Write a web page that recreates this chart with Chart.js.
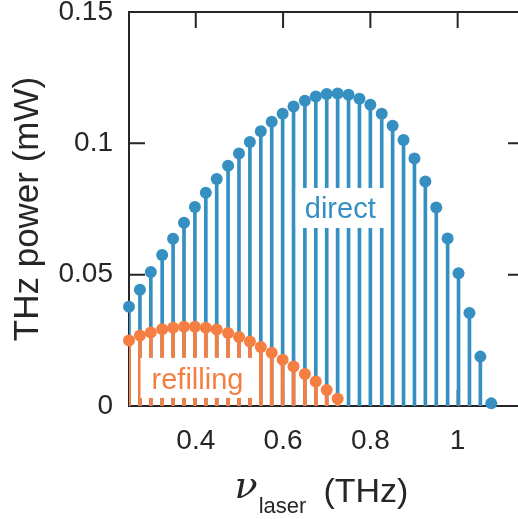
<!DOCTYPE html>
<html>
<head>
<meta charset="utf-8">
<script src="https://cdn.jsdelivr.net/npm/chart.js@4.4.1/dist/chart.umd.min.js"></script>
<style>
  html, body { margin: 0; padding: 0; background: #fff; overflow: hidden; }
  #wrap { position: relative; width: 540px; height: 519px; }
</style>
</head>
<body>
<div id="wrap"><canvas id="thzChart" width="540" height="519"></canvas></div>
<script>
// laser frequency of each line (THz)
const freqs = [0.247, 0.272, 0.297, 0.323, 0.348, 0.373, 0.398, 0.423, 0.448, 0.474,
               0.499, 0.524, 0.549, 0.574, 0.599, 0.624, 0.650, 0.675, 0.700, 0.725,
               0.750, 0.775, 0.800, 0.826, 0.851, 0.876, 0.901, 0.926, 0.951, 0.977,
               1.002, 1.027, 1.052, 1.077];
// THz power (mW), direct pumping
const directPower = [0.0378, 0.0443, 0.0510, 0.0575, 0.0637, 0.0698, 0.0758, 0.0812, 0.0864, 0.0915,
                     0.0961, 0.1005, 0.1046, 0.1082, 0.1113, 0.1140, 0.1162, 0.1178, 0.1188, 0.1190,
                     0.1185, 0.1170, 0.1147, 0.1113, 0.1067, 0.1013, 0.0942, 0.0855, 0.0756, 0.0638,
                     0.0505, 0.0354, 0.0188, 0.0010];
// refilling pumping, only the first 20 lines
const refillFreqs = [0.247, 0.272, 0.297, 0.323, 0.348, 0.373, 0.398, 0.423, 0.448, 0.474,
                     0.499, 0.524, 0.549, 0.574, 0.599, 0.624, 0.650, 0.675, 0.700, 0.725];
const refillPower = [0.0249, 0.0268, 0.0280, 0.0292, 0.0298, 0.0302, 0.0302, 0.0298, 0.0291, 0.0278,
                     0.0263, 0.0246, 0.0225, 0.0203, 0.0176, 0.0150, 0.0122, 0.0093, 0.0061, 0.0028];
const xTicks = [0.4, 0.6, 0.8, 1];
const yTicks = [0, 0.05, 0.1, 0.15];

const BLUE = '#3590c1';
const ORANGE = '#f57f43';
const AXIS = '#262626';
const FONT = "'Liberation Sans', Arial, Helvetica, sans-serif";

function pts(xs, ys) {
    return xs.map((x, i) => ({ x: x, y: ys[i] }));
}

// caixa do eixo com ticks para dentro
const framePlugin = {
    id: 'frame',
    beforeDatasetsDraw(chart) {
        const { ctx, chartArea: a, scales } = chart;
        const tl = 16;
        ctx.save();
        ctx.strokeStyle = AXIS;
        ctx.lineWidth = 2;
        ctx.beginPath();
        ctx.rect(a.left, a.top, a.right - a.left, a.bottom - a.top);
        xTicks.forEach(v => {
            const x = scales.x.getPixelForValue(v);
            ctx.moveTo(x, a.bottom); ctx.lineTo(x, a.bottom - tl);
            ctx.moveTo(x, a.top); ctx.lineTo(x, a.top + tl);
        });
        yTicks.slice(1, -1).forEach(v => {
            const y = scales.y.getPixelForValue(v);
            ctx.moveTo(a.left, y); ctx.lineTo(a.left + tl, y);
            ctx.moveTo(a.right, y); ctx.lineTo(a.right - tl, y);
        });
        ctx.stroke();
        ctx.restore();
    }
};

// rótulos com fundo branco + título do eixo x com subscrito
const labels = [
    { text: 'direct', x: 0.731, y: 0.0754, w: 89, h: 40, color: BLUE, dy: 10 },
    { text: 'refilling', x: 0.404, y: 0.0107, w: 114, h: 40, color: ORANGE, dy: 11 }
];

const textPlugin = {
    id: 'texts',
    afterDatasetsDraw(chart) {
        const { ctx, chartArea: a, scales } = chart;
        ctx.save();
        labels.forEach(l => {
            const cx = scales.x.getPixelForValue(l.x);
            const cy = scales.y.getPixelForValue(l.y);
            ctx.fillStyle = '#fff';
            ctx.fillRect(cx - l.w / 2, cy - l.h / 2, l.w, l.h);
            ctx.fillStyle = l.color;
            ctx.font = '29px ' + FONT;
            ctx.textAlign = 'center';
            ctx.textBaseline = 'alphabetic';
            ctx.fillText(l.text, cx, cy + l.dy);
        });

        // ν_laser (THz)
        const nuFont = "italic 38px 'DejaVu Serif', 'Liberation Serif', serif";
        const subFont = '22px ' + FONT;
        const unitFont = '34px ' + FONT;
        ctx.font = nuFont; const wNu = ctx.measureText('ν').width;
        ctx.font = subFont; const wSub = ctx.measureText('laser').width;
        ctx.font = unitFont; const wUnit = ctx.measureText('(THz)').width;
        const gap = 17;
        const total = wNu + 1 + wSub + gap + wUnit;
        let x = (a.left + a.right) / 2 - 5 - total / 2;
        ctx.fillStyle = AXIS;
        ctx.textAlign = 'left';
        ctx.font = nuFont; ctx.fillText('ν', x, 498);
        x += wNu + 1;
        ctx.font = subFont; ctx.fillText('laser', x, 513);
        x += wSub + gap;
        ctx.font = unitFont; ctx.fillText('(THz)', x, 502);
        ctx.restore();
    }
};

function initChart() {
    const ctx = document.getElementById('thzChart').getContext('2d');
    return new Chart(ctx, {
        type: 'bar',
        data: {
            datasets: [
                {
                    type: 'line', label: 'refilling', data: pts(refillFreqs, refillPower),
                    showLine: false, pointRadius: 6, pointHoverRadius: 6,
                    pointBackgroundColor: ORANGE, pointBorderWidth: 0, clip: false, order: 0
                },
                {
                    type: 'bar', label: 'refilling stems', data: pts(refillFreqs, refillPower),
                    backgroundColor: ORANGE, barThickness: 3, grouped: false, order: 1
                },
                {
                    type: 'line', label: 'direct', data: pts(freqs, directPower),
                    showLine: false, pointRadius: 6, pointHoverRadius: 6,
                    pointBackgroundColor: BLUE, pointBorderWidth: 0, clip: false, order: 2
                },
                {
                    type: 'bar', label: 'direct stems', data: pts(freqs, directPower),
                    backgroundColor: BLUE, barThickness: 3, grouped: false, order: 3
                }
            ]
        },
        options: {
            responsive: false,
            animation: false,
            devicePixelRatio: 1,
            layout: { padding: { top: 12, right: 16, left: 0, bottom: 0 } },
            scales: {
                x: {
                    type: 'linear', min: 0.247, max: 1.152, offset: false,
                    grid: { display: false, drawTicks: false },
                    border: { display: false },
                    afterBuildTicks: s => { s.ticks = xTicks.map(v => ({ value: v })); },
                    afterFit: s => { s.height = 113; s.paddingLeft = 0; s.paddingRight = 0; },
                    ticks: {
                        padding: 18, color: AXIS, maxRotation: 0, autoSkip: false,
                        font: { family: FONT, size: 28 },
                        callback: v => String(v)
                    }
                },
                y: {
                    min: 0, max: 0.15,
                    grid: { display: false, drawTicks: false },
                    border: { display: false },
                    afterBuildTicks: s => { s.ticks = yTicks.map(v => ({ value: v })); },
                    afterFit: s => { s.width = 129; s.paddingTop = 0; s.paddingBottom = 0; },
                    ticks: {
                        padding: 16, color: AXIS,
                        font: { family: FONT, size: 28 },
                        callback: v => String(Number(v.toFixed(2)))
                    },
                    title: {
                        display: true, text: 'THz power (mW)', color: AXIS,
                        font: { family: FONT, size: 35 }, padding: { top: 7, bottom: 0 }
                    }
                }
            },
            plugins: { legend: { display: false }, tooltip: { enabled: false } }
        },
        plugins: [framePlugin, textPlugin]
    });
}

initChart();
</script>
</body>
</html>
